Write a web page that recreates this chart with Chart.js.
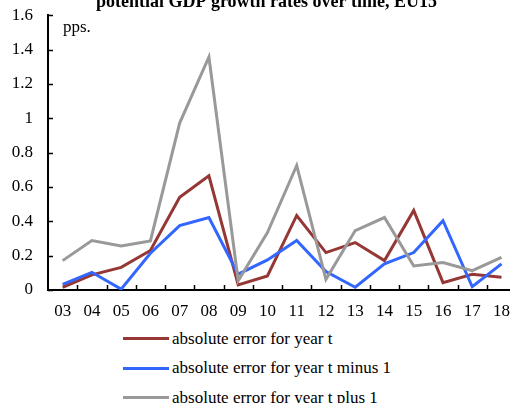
<!DOCTYPE html>
<html>
<head>
<meta charset="utf-8">
<script src="https://cdn.jsdelivr.net/npm/chart.js@4"></script>
<style>
  html, body { margin: 0; padding: 0; background: #fff; overflow: hidden; width: 510px; height: 403px; }
  #wrap { position: absolute; left: 0; top: -10px; width: 521px; height: 333px; }
  #legend { position: absolute; left: 123px; top: 324px; font: 17px "Liberation Serif", serif; color: #000; }
  .row { height: 29.5px; display: flex; align-items: center; white-space: nowrap; }
  .row i { display: inline-block; width: 46px; height: 3px; margin-right: 3px; }
</style>
</head>
<body>
<div id="wrap"><canvas id="chart"></canvas></div>
<div id="legend"></div>
<script>
const years = ['03','04','05','06','07','08','09','10','11','12','13','14','15','16','17','18'];
const errYearT   = [0.016,0.088,0.132,0.23,0.54,0.665,0.03,0.082,0.434,0.218,0.276,0.171,0.463,0.043,0.092,0.074];
const errMinus1  = [0.033,0.103,0.005,0.214,0.375,0.422,0.092,0.175,0.288,0.107,0.016,0.152,0.218,0.404,0.019,0.152];
const errPlus1   = [0.171,0.288,0.257,0.286,0.972,1.357,0.054,0.334,0.725,0.062,0.346,0.422,0.14,0.16,0.113,0.19];
const seriesNames = ['absolute error for year t','absolute error for year t minus 1','absolute error for year t plus 1'];
const seriesColors = ['#953735','#3366ff','#999999'];

const serif = '"Liberation Serif", "Times New Roman", serif';

// inward tick marks + "pps." unit label
const innerTicks = {
  id: 'innerTicks',
  afterDraw(chart) {
    const { ctx, chartArea: { left, top, bottom }, scales: { x, y } } = chart;
    ctx.save();
    ctx.strokeStyle = '#000';
    ctx.lineWidth = 1.5;
    ctx.beginPath();
    y.ticks.forEach(t => {
      const py = Math.round(y.getPixelForValue(t.value)) + 0.5;
      ctx.moveTo(left, py); ctx.lineTo(left + 5, py);
    });
    for (let i = 1; i < years.length; i++) {
      const px = Math.round((x.getPixelForValue(i - 1) + x.getPixelForValue(i)) / 2) + 0.5;
      ctx.moveTo(px, bottom); ctx.lineTo(px, bottom - 5);
    }
    ctx.stroke();
    ctx.fillStyle = '#000';
    ctx.font = '17px ' + serif;
    ctx.textBaseline = 'middle';
    ctx.fillText('pps.', left + 15, top + 12);
    ctx.restore();
  }
};

new Chart(document.getElementById('chart'), {
  type: 'line',
  plugins: [innerTicks],
  data: {
    labels: years,
    datasets: [errYearT, errMinus1, errPlus1].map((d, i) => ({
      label: seriesNames[i],
      data: d,
      borderColor: seriesColors[i],
      backgroundColor: seriesColors[i],
      borderWidth: 3,
      pointRadius: 0,
      tension: 0,
      order: 2 - i
    }))
  },
  options: {
    responsive: true,
    maintainAspectRatio: false,
    animation: false,
    layout: { padding: { left: 12, right: 0, top: 0, bottom: 0 } },
    plugins: {
      legend: { display: false },
      tooltip: { enabled: false },
      title: {
        display: true,
        text: 'potential GDP growth rates over time, EU15',
        color: '#000',
        font: { family: serif, size: 18, weight: 'bold' },
        padding: { top: 0, bottom: 2 }
      }
    },
    scales: {
      x: {
        offset: true,
        grid: { display: false, drawTicks: false },
        border: { color: '#000', width: 2 },
        ticks: { color: '#000', font: { family: serif, size: 17 }, padding: 11, maxRotation: 0, autoSkip: false },
        afterFit: s => { s.height = 33; }
      },
      y: {
        min: 0, max: 1.6,
        grid: { display: false, drawTicks: false },
        border: { color: '#000', width: 2 },
        ticks: {
          stepSize: 0.2, color: '#000', font: { family: serif, size: 17 }, padding: 15,
          callback: v => String(+v.toFixed(1))
        },
        afterFit: s => { s.width = 36; }
      }
    }
  }
});

document.getElementById('legend').innerHTML = seriesNames.map((n, i) =>
  `<div class="row"><i style="background:${seriesColors[i]}"></i>${n}</div>`).join('');
</script>
</body>
</html>
